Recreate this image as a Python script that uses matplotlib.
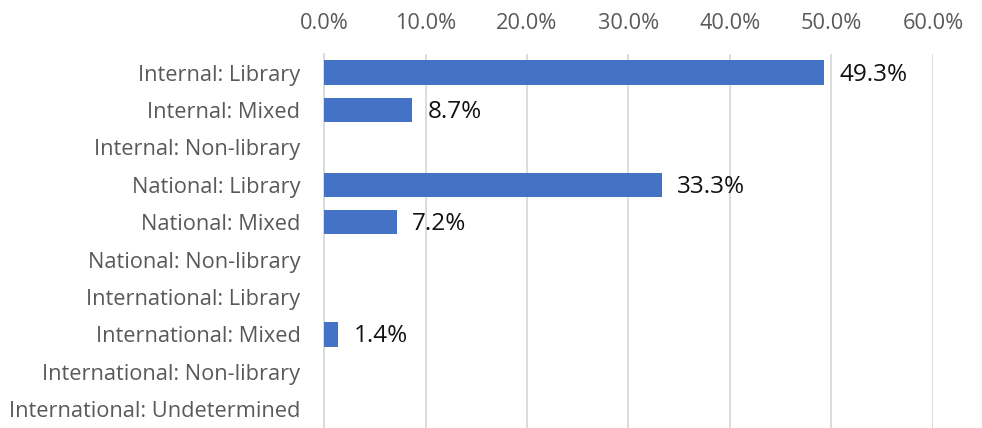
import matplotlib.pyplot as plt
from matplotlib.ticker import FuncFormatter

categories = ['Internal: Library', 'Internal: Mixed', 'Internal: Non-library',
              'National: Library', 'National: Mixed', 'National: Non-library',
              'International: Library', 'International: Mixed',
              'International: Non-library', 'International: Undetermined']
values = [49.3, 8.7, 0, 33.3, 7.2, 0, 0, 1.4, 0, 0]
xticks = [0, 10, 20, 30, 40, 50, 60]

plt.rcParams['font.family'] = ['Open Sans', 'DejaVu Sans']

fig = plt.figure(figsize=(9.82, 4.28), dpi=100)
ax = fig.add_axes([0.33, 0.0, 0.62, 0.874])

y = range(len(categories))
ax.barh(y, values, height=0.65, color='#4472C4', zorder=3)
for yi, v in zip(y, values):
    if v > 0:
        ax.text(v + 1.5, yi + 0.05, f'{v:.1f}%', va='center', ha='left',
                fontsize=17.5, color='#111111')

ax.set_yticks(list(y))
ax.set_yticklabels(categories)
ax.set_ylim(len(categories) - 0.5, -0.5)
ax.set_xlim(0, 60)
ax.set_xticks(xticks)
ax.xaxis.set_major_formatter(FuncFormatter(lambda v, p: f'{v:.1f}%'))
ax.xaxis.tick_top()
ax.tick_params(axis='both', length=0, labelsize=15.7, colors='#595959')
ax.tick_params(axis='x', pad=14.5)
ax.tick_params(axis='y', pad=17)
ax.grid(axis='x', color='#D9D9D9', linewidth=1.3, zorder=0)
for s in ['top', 'right', 'bottom']:
    ax.spines[s].set_visible(False)
ax.spines['left'].set_color('#D9D9D9')
ax.spines['left'].set_linewidth(1.3)

fig.savefig('out.png', dpi=100)
